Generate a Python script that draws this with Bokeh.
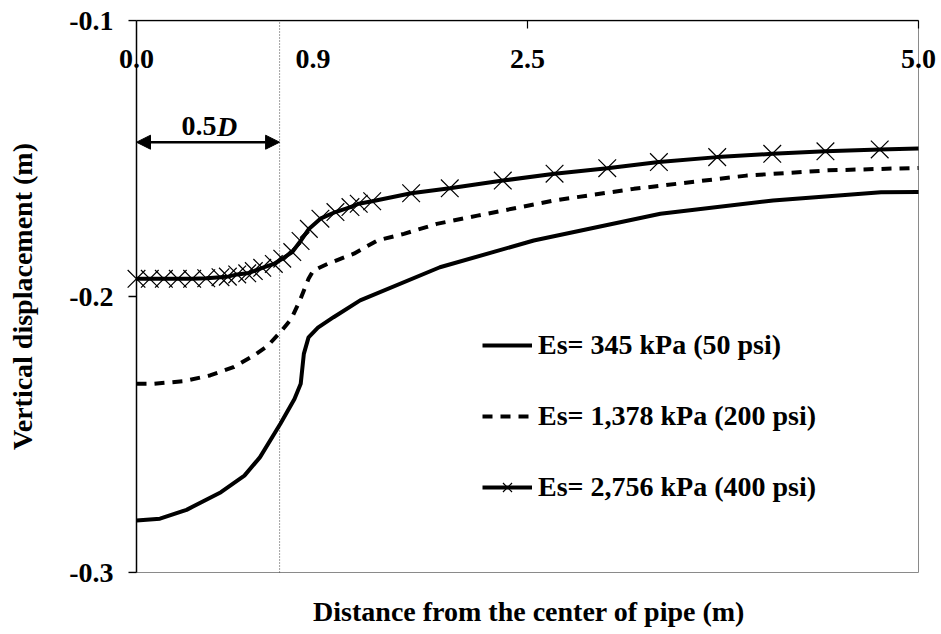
from bokeh.plotting import figure
from bokeh.models import (Range1d, FixedTicker, Legend, LegendItem,
                          Label, Arrow, NormalHead)
from bokeh.embed import file_html
from bokeh.resources import INLINE

# ---------------- data ----------------
x_345 = [0, 0.15, 0.32, 0.54, 0.69, 0.79, 0.92, 1.01, 1.05, 1.07, 1.10, 1.16, 1.26,
         1.43, 1.94, 2.54, 3.35, 4.07, 4.76, 5.0]
y_345 = [-0.2812, -0.2805, -0.2773, -0.2709, -0.2649, -0.2582, -0.2461, -0.2371,
         -0.2316, -0.2208, -0.2148, -0.2113, -0.2075, -0.2014, -0.1894, -0.1797,
         -0.1700, -0.1652, -0.1622, -0.1621]

x_1378 = [0, 0.11, 0.30, 0.47, 0.62, 0.75, 0.84, 0.92, 0.99, 1.05, 1.10, 1.13, 1.22,
          1.39, 1.54, 1.71, 1.92, 2.18, 2.67, 3.18, 3.90, 4.42, 5.0]
y_1378 = [-0.2316, -0.2316, -0.2307, -0.2286, -0.2256, -0.2214, -0.2178, -0.2129,
          -0.2081, -0.2007, -0.1936, -0.1906, -0.1882, -0.1845, -0.1797, -0.1773,
          -0.1737, -0.1707, -0.1652, -0.1610, -0.1562, -0.1543, -0.1534]

x_2756 = [0, 0.085, 0.175, 0.264, 0.356, 0.446, 0.537, 0.584, 0.644, 0.708, 0.750,
          0.804, 0.878, 0.932, 0.996, 1.049, 1.102, 1.176, 1.272, 1.368, 1.421, 1.507,
          1.756, 2.003, 2.342, 2.673, 3.010, 3.340, 3.713, 4.065, 4.405, 4.752, 5.0]
y_2756 = [-0.1936, -0.1936, -0.1936, -0.1936, -0.1936, -0.1934, -0.1930, -0.1928,
          -0.1920, -0.1916, -0.1908, -0.1896, -0.1882, -0.1863, -0.1839, -0.1799,
          -0.1755, -0.1718, -0.1694, -0.1676, -0.1664, -0.1655, -0.1626, -0.1608,
          -0.1580, -0.1555, -0.1535, -0.1513, -0.1495, -0.1483, -0.1474, -0.1467,
          -0.1464]

series_labels = ["Es= 345 kPa (50 psi)", "Es= 1,378 kPa (200 psi)",
                 "Es= 2,756 kPa (400 psi)"]

y_ticks = [-0.1, -0.2, -0.3]
y_tick_labels = ["-0.1", "-0.2", "-0.3"]

top_tick_pos = [0.0, 1.128, 2.5, 5.0]
top_tick_labels = ["0.0", "0.9", "2.5", "5.0"]
top_ticks = [2.5, 5.0]

x_min, x_max = 0.0, 5.0
y_min, y_max = -0.3, -0.1
half_d = 0.915  # 0.5D position (m)

FONT = "Liberation Serif"
FS = "28px"

# pixel scale: 156.4 px per m on x, 2760 px per m on y
PX_X = 156.4
PX_Y = 2760.0

# ---------------- figure ----------------
p = figure(width=941, height=634, output_backend="svg", toolbar_location=None,
           x_range=Range1d(x_min - 20 / PX_X, x_max + 23 / PX_X),
           y_range=Range1d(y_min - 1 / PX_Y, y_max + 1 / PX_Y),
           min_border_left=116, min_border_right=0, min_border_top=19,
           min_border_bottom=61, background_fill_color="white",
           border_fill_color="white")
p.grid.visible = False
p.outline_line_color = None

# bottom axis: title only
xa = p.xaxis[0]
xa.ticker = FixedTicker(ticks=[])
xa.axis_line_color = None
xa.major_tick_line_color = None
xa.minor_tick_line_color = None
xa.axis_label = "Distance from the center of pipe (m)"
xa.axis_label_text_font = FONT
xa.axis_label_text_font_style = "bold"
xa.axis_label_text_font_size = FS
xa.axis_label_text_color = "black"
xa.axis_label_standoff = 22

# left axis: tick labels and title (spine and ticks drawn at x = 0 below)
ya = p.yaxis[0]
ya.ticker = FixedTicker(ticks=y_ticks)
ya.major_label_overrides = {t: l for t, l in zip(y_ticks, y_tick_labels)}
ya.major_tick_out = 0
ya.major_tick_in = 0
ya.major_tick_line_color = None
ya.minor_tick_line_color = None
ya.axis_line_color = None
ya.major_label_text_font = FONT
ya.major_label_text_font_style = "bold"
ya.major_label_text_font_size = FS
ya.major_label_text_color = "black"
ya.major_label_standoff = 3
ya.axis_label = "Vertical displacement (m)"
ya.axis_label_text_font = FONT
ya.axis_label_text_font_style = "bold"
ya.axis_label_text_font_size = FS
ya.axis_label_text_color = "black"
ya.axis_label_standoff = 28

# plot box: right and bottom grey, left and top black
p.segment(x0=[x_max], y0=[y_min], x1=[x_max], y1=[y_max], line_color="#8a8a8a", line_width=1)
p.segment(x0=[x_min], y0=[y_min], x1=[x_max], y1=[y_min], line_color="#8a8a8a", line_width=1)
p.segment(x0=[x_min], y0=[y_min], x1=[x_min], y1=[y_max], line_color="black", line_width=1.5)
p.segment(x0=[x_min], y0=[y_max], x1=[x_max], y1=[y_max], line_color="black", line_width=1.5)
# y ticks (outside, left of spine)
p.segment(x0=[x_min - 8 / PX_X] * len(y_ticks), y0=y_ticks,
          x1=[x_min] * len(y_ticks), y1=y_ticks, line_color="black", line_width=1.5)
# top ticks (inside, pointing down)
p.segment(x0=top_ticks, y0=[y_max] * len(top_ticks),
          x1=top_ticks, y1=[y_max - 8 / PX_Y] * len(top_ticks),
          line_color="black", line_width=1.2)

for pos, lab in zip(top_tick_pos, top_tick_labels):
    p.add_layout(Label(x=pos, y=y_max, y_offset=-38, text=lab, text_align="center",
                       text_baseline="alphabetic", text_font=FONT,
                       text_font_style="bold", text_font_size=FS,
                       text_color="black"))

# dotted vertical line at 0.5D
p.segment(x0=[half_d], y0=[y_min], x1=[half_d], y1=[y_max], line_color="#444444",
          line_width=1, line_dash="1 2")

# double arrow and 0.5D label
p.add_layout(Arrow(start=NormalHead(size=14, fill_color="black", line_color="black"),
                   end=NormalHead(size=14, fill_color="black", line_color="black"),
                   x_start=0, x_end=half_d, y_start=-0.1441, y_end=-0.1441,
                   line_width=2.5, line_color="black"))
p.add_layout(Label(x=half_d / 2, y=-0.1384, x_offset=-9, text="0.5", text_align="center",
                   text_baseline="alphabetic", text_font=FONT, text_font_style="bold",
                   text_font_size=FS, text_color="black"))
p.add_layout(Label(x=half_d / 2, y=-0.1384, x_offset=9, text="D", text_align="left",
                   text_baseline="alphabetic", text_font=FONT,
                   text_font_style="bold italic", text_font_size=FS,
                   text_color="black"))

# ---------------- series ----------------
r1 = p.line(x_345, y_345, line_color="black", line_width=4)
r2 = p.line(x_1378, y_1378, line_color="black", line_width=4, line_dash="10 8")
r3 = p.line(x_2756, y_2756, line_color="black", line_width=4)
r3m = p.scatter(x_2756[:-1], y_2756[:-1], marker="x", size=25, line_color="black",
                line_width=1.2)

legend = Legend(items=[LegendItem(label=series_labels[0], renderers=[r1]),
                       LegendItem(label=series_labels[1], renderers=[r2]),
                       LegendItem(label=series_labels[2], renderers=[r3, r3m])],
                location=(366, 70), orientation="vertical",
                background_fill_alpha=0, border_line_color=None,
                padding=0, margin=0, spacing=39, glyph_width=50, glyph_height=32,
                label_height=32, label_standoff=6,
                label_text_font=FONT, label_text_font_style="bold",
                label_text_font_size=FS, label_text_color="black")
p.add_layout(legend)

open("out.html", "w").write(file_html(p, INLINE))
